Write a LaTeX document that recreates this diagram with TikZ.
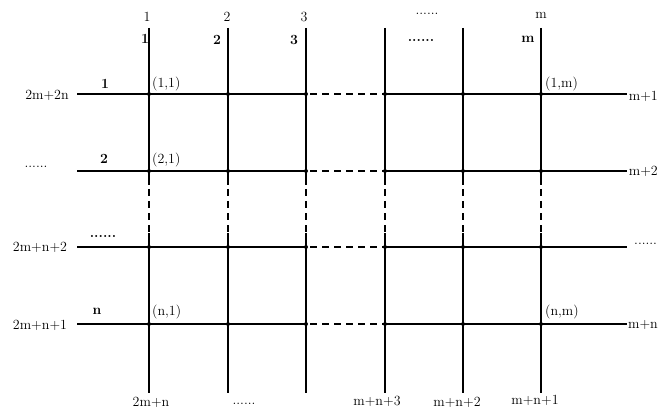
\documentclass[tikz,border=0pt]{standalone}
\usepackage{tikz}
\begin{document}
\begin{tikzpicture}[x=1pt,y=-1pt,
  gridline/.style={line width=1.6pt,black},
  gapline/.style={line width=1.6pt,black,dash pattern=on 7pt off 5pt},
  lab/.style={inner sep=0pt,font=\fontsize{14}{16}\selectfont},
  blab/.style={inner sep=0pt,font=\fontsize{14}{16}\selectfont\bfseries},
  crosslab/.style={lab,anchor=west}]
\useasboundingbox (0,0) rectangle (659,409);
% columns and rows
\foreach \i/\x in {1/149,2/228,3/306,4/385,5/463,6/541}{
  \coordinate (t\i) at (\x,28);
  \coordinate (u\i) at (\x,185);
  \coordinate (l\i) at (\x,233);
  \coordinate (b\i) at (\x,393);
  \foreach \j/\y in {1/94,2/171,3/247,4/324}{
    \coordinate (p\i\j) at (\x,\y);
  }
}
\foreach \j/\y in {1/94,2/171,3/247,4/324}{
  \coordinate (L\j) at (77,\y);
  \coordinate (R\j) at (627,\y);
  \draw[gridline] (L\j) -- (p3\j);
  \draw[gapline,dash phase=-4pt] (p3\j) -- (p4\j);
  \draw[gridline] (p4\j) -- (R\j);
}
\foreach \i in {1,...,6}{
  \draw[gridline] (t\i) -- (u\i);
  \draw[gapline,dash phase=-4pt] (u\i) -- (l\i);
  \draw[gridline] (l\i) -- (b\i);
  \foreach \j in {1,...,4}{
    \fill (p\i\j) circle (2pt);
  }
}
% top labels
\node[lab] (tc1) at (147,17) {1};
\node[lab] (tc2) at (227,17) {2};
\node[lab] (tc3) at (304,17) {3};
\node[lab] (tc4) at (427,14) {......};
\node[lab] (tc6) at (541,15) {m};
\node[blab] (bc1) at (145,39) {1};
\node[blab] (bc2) at (217,40) {2};
\node[blab] (bc3) at (294,40) {3};
\node[blab] (bc4) at (421,40) {......};
\node[blab] (bc6) at (528,39) {m};
% left labels
\node[lab] (ll1) at (47,95) {2m+2n};
\node[lab] (ll2) at (36,167) {......};
\node[lab] (ll3) at (40,247) {2m+n+2};
\node[lab] (ll4) at (40,325) {2m+n+1};
\node[blab] (rl1) at (105,84) {1};
\node[blab] (rl2) at (104,159) {2};
\node[blab] (rl3) at (103,236) {......};
\node[blab] (rl4) at (97,311) {n};
% crossing labels
\node[crosslab] (x11) at (152,84) {(1,1)};
\node[crosslab] (x21) at (152,160) {(2,1)};
\node[crosslab] (xn1) at (152,312) {(n,1)};
\node[crosslab] (x1m) at (545,84) {(1,m)};
\node[crosslab] (xnm) at (545,312) {(n,m)};
% right labels
\node[lab,anchor=east] (r1) at (658,96) {m+1};
\node[lab,anchor=east] (r2) at (658,171) {m+2};
\node[lab,anchor=west] (r3) at (634,244) {......};
\node[lab,anchor=east] (r4) at (658,325) {m+n};
% bottom labels
\node[lab] (bb1) at (151,402) {2m+n};
\node[lab] (bb2) at (244,404) {......};
\node[lab] (bb4) at (377,401) {m+n+3};
\node[lab] (bb5) at (457,402) {m+n+2};
\node[lab] (bb6) at (535,400) {m+n+1};
\end{tikzpicture}
\end{document}
